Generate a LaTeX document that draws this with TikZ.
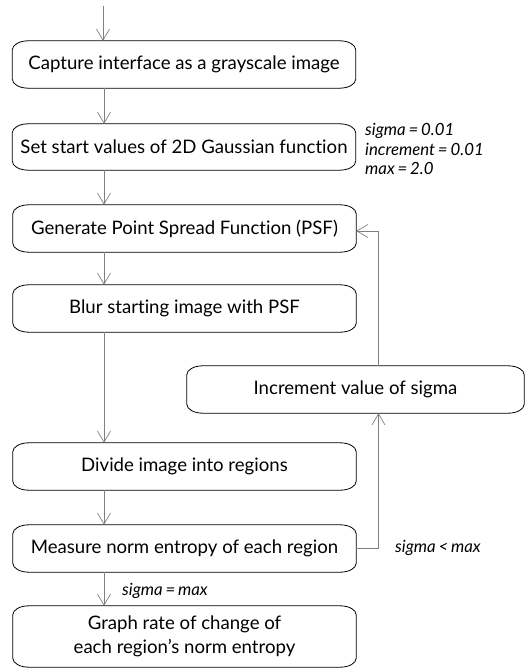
\documentclass[tikz,border=0pt]{standalone}
\usepackage{fontspec}
\setmainfont{Lato}[Ligatures={NoCommon}]
\usetikzlibrary{arrows.meta,calc}
\newcommand{\myeq}{\hspace{0.17em}=\hspace{0.17em}}
\newcommand{\mylt}{\hspace{0.17em}<\hspace{0.17em}}
\tikzset{
  stepbox/.style={draw=none, minimum width=343pt, minimum height=47pt, inner sep=0pt, align=center, font=\fontsize{18.6}{24}\selectfont},
  conn/.style={draw=black!50, line width=0.9pt, -{Straight Barb[length=11pt,width=13pt,line width=0.7pt]}},
  note/.style={font=\fontsize{16.8}{19.5}\selectfont\itshape, inner sep=0pt, align=left},
}
\newcommand{\boxoutline}[1]{%
  \draw[black, line width=0.8pt]
    ($(#1.north west)+(16pt,0)$) -- ($(#1.north east)+(-16pt,0)$)
    arc[start angle=90,end angle=0,x radius=16pt,y radius=9pt]
    -- ($(#1.south east)+(0,9pt)$)
    arc[start angle=0,end angle=-90,x radius=16pt,y radius=9pt]
    -- ($(#1.south west)+(16pt,0)$)
    arc[start angle=270,end angle=180,x radius=16pt,y radius=9pt]
    -- ($(#1.north west)+(0,-9pt)$)
    arc[start angle=180,end angle=90,x radius=16pt,y radius=9pt] -- cycle;}
\begin{document}
\begin{tikzpicture}[x=1pt,y=1pt]
\useasboundingbox (0,0) rectangle (529,-668);
\fill[white] (0,0) rectangle (529,-668);

\node[stepbox] (b1) at (184,-64.5) {Capture interface as a grayscale image};
\node[stepbox, minimum height=46pt] (b2) at (184,-147) {Set start values of 2D Gaussian function};
\node[stepbox] (b3) at (184.5,-228.5) {Generate Point Spread Function (PSF)};
\node[stepbox] (b4) at (184.5,-308.5) {Blur starting image with PSF};
\node[stepbox, minimum width=337pt] (b5) at (355.5,-389.5) {Increment value of sigma};
\node[stepbox] (b6) at (184.5,-466.5) {Divide image into regions};
\node[stepbox] (b7) at (184.5,-548.5) {Measure norm entropy of each region};
\node[stepbox, minimum height=61pt] (b8) at (184.5,-636.5) {Graph rate of change of\\each region’s norm entropy};

\foreach \n in {b1,b2,b3,b4,b5,b6,b7,b8} {\boxoutline{\n}}

\node[note, anchor=west] (n1) at (365,-149) {sigma\myeq 0.01\\ increment\myeq 0.01\\max\myeq 2.0};
\node[note, anchor=west] (l1) at (395,-548) {sigma\mylt max};
\node[note, anchor=west] (l2) at (122,-591) {sigma\myeq max};

\coordinate (start) at (103,-6);
\coordinate (ax) at (104,0);
\coordinate (fx) at (378.5,0);

\draw[conn] (start) -- (b1.north -| start);
\draw[conn] (b1.south -| ax) -- (b2.north -| ax);
\draw[conn] (b2.south -| ax) -- (b3.north -| ax);
\draw[conn] (b3.south -| ax) -- (b4.north -| ax);
\draw[conn] (b4.south -| ax) -- (b6.north -| ax);
\draw[conn] (b6.south -| ax) -- (b7.north -| ax);
\draw[conn] (b7.south -| ax) -- (b8.north -| ax);
\draw[conn] (b5.north -| fx) |- ($(b3.east)+(0,-2.5)$);
\draw[conn] (b7.east) -| (b5.south -| fx);
\end{tikzpicture}
\end{document}
